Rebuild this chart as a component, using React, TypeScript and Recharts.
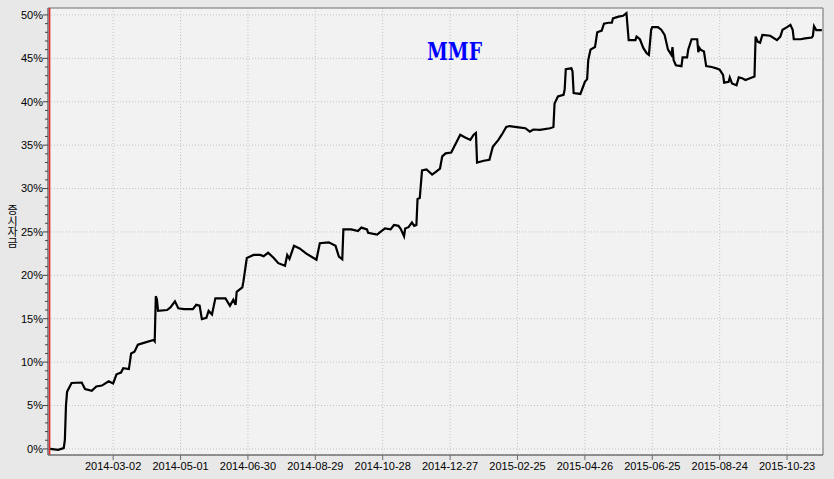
import React from 'react';
import { ComposedChart, Line, XAxis, YAxis, CartesianGrid, ReferenceLine, ReferenceArea } from 'recharts';

// day index counted from 2014-01-01
const days = [
  4, 11, 16, 17, 18, 19, 23, 32, 35, 41, 45, 50, 56, 60, 63, 67, 69, 74, 76, 79, 82, 88, 96, 97, 98, 99, 100,
  108, 111, 115, 118, 123, 131, 134, 137, 139, 143, 145, 148, 151, 160, 164, 167, 169, 170, 175, 176, 179,
  185, 191, 194, 198, 203, 207, 213, 215, 217, 221, 226, 232, 241, 244, 252, 258, 261, 264, 265, 272, 278,
  281, 286, 287, 295, 298, 302, 307, 310, 314, 316, 319, 320, 323, 326, 328, 330, 331, 333, 335, 339, 344,
  347, 351, 353, 356, 361, 369, 373, 378, 381, 383, 384, 390, 395, 398, 403, 406, 410, 413, 421, 427, 431,
  434, 440, 449, 452, 453, 456, 461, 462, 463, 468, 469, 470, 476, 480, 482, 483, 485, 489, 491, 495, 497,
  501, 504, 505, 510, 514, 517, 519, 525, 526, 529, 532, 535, 537, 539, 540, 545, 548, 551, 554, 557, 558,
  559, 561, 566, 567, 571, 572, 575, 580, 581, 582, 583, 586, 588, 593, 597, 600, 603, 604, 608, 609, 611,
  615, 617, 620, 623, 627, 631, 632, 634, 636, 638, 645, 651, 654, 656, 660, 663, 665, 666, 672, 676, 682,
  683, 684, 686, 691,
];

const values = [
  0, -0.1, 0.1, 1.0, 5.0, 6.6, 7.6, 7.65, 6.9, 6.7, 7.2, 7.3, 7.8, 7.55, 8.6, 8.8, 9.3, 9.2, 11.0, 11.2, 12.0, 12.25, 12.55, 12.4, 17.6, 17.2, 15.9,
  16.0, 16.3, 17.0, 16.2, 16.1, 16.1, 16.6, 16.5, 14.95, 15.1, 15.9, 15.5, 17.35, 17.35, 16.5, 17.2, 16.6, 18.1, 18.6, 19.3, 22.0,
  22.35, 22.35, 22.2, 22.6, 22.0, 21.4, 21.1, 22.35, 21.9, 23.4, 23.1, 22.5, 21.8, 23.7, 23.8, 23.4, 22.15, 21.85, 25.3, 25.3, 25.1,
  25.5, 25.3, 24.9, 24.7, 25.0, 25.4, 25.3, 25.8, 25.7, 25.35, 24.5, 25.4, 25.55, 26.1, 25.7, 25.8, 28.8, 28.9, 32.1, 32.2, 31.6,
  31.9, 32.3, 33.7, 34.05, 34.15, 36.2, 35.9, 35.6, 36.2, 36.4, 33.0, 33.2, 33.3, 34.8, 35.6, 36.2, 37.1, 37.2, 37.05, 36.95, 36.55,
  36.8, 36.75, 36.95, 37.1, 39.8, 40.6, 40.8, 41.4, 43.75, 43.85, 43.5, 41.0, 40.9, 42.3, 42.6, 44.8, 46.0, 46.3, 48.0, 48.2, 49.0,
  49.1, 49.1, 49.6, 49.8, 49.9, 50.2, 47.1, 47.1, 47.5, 47.2, 46.2, 45.6, 45.4, 48.3, 48.6, 48.6, 48.3, 47.7, 46.0, 45.4, 46.3,
  44.8, 44.2, 44.1, 45.1, 45.1, 46.0, 47.2, 47.2, 45.7, 46.2, 46.0, 45.8, 44.1, 44.0, 43.85, 43.7, 43.1, 42.2, 42.3, 42.8, 42.1,
  41.9, 42.8, 42.7, 42.5, 42.7, 42.9, 47.5, 46.9, 46.8, 47.7, 47.6, 47.1, 47.5, 48.3, 48.6, 48.85, 48.3, 47.2, 47.2, 47.3, 47.4,
  47.6, 48.7, 48.25, 48.25,
];

const xTickDays = [60, 120, 180, 240, 300, 360, 420, 480, 540, 600, 660];
const xTickLabels = [
  '2014-03-02', '2014-05-01', '2014-06-30', '2014-08-29', '2014-10-28', '2014-12-27',
  '2015-02-25', '2015-04-26', '2015-06-25', '2015-08-24', '2015-10-23',
];
const yMajorTicks = [0, 5, 10, 15, 20, 25, 30, 35, 40, 45, 50];
const yAllTicks = Array.from({ length: 51 }, (_, i) => i);

const title = 'MMF';
const yLabel = '증시자금';

const data = days.map((d, i) => ({ day: d, v: values[i] }));

const FONT = '"Liberation Sans", Arial, sans-serif';

const YTick = (props: any) => {
  const { x, y, payload } = props;
  const v = payload.value;
  const major = v % 5 === 0;
  return (
    <g>
      <line x1={x - (major ? 5 : 3)} x2={x} y1={y} y2={y} stroke="#444" strokeWidth={1} />
      {major && (
        <text x={x - 5} y={y} dy="0.36em" textAnchor="end" fontSize={11} fontFamily={FONT} fill="#000">
          {v}%
        </text>
      )}
    </g>
  );
};

export default function App() {
  return (
    <div style={{ position: 'absolute', left: 0, top: 0, width: 834, height: 479, background: '#e8e8e8' }}>
      <ComposedChart width={834} height={479} data={data} margin={{ top: 8, right: 11, bottom: 0, left: 0 }}>
        <CartesianGrid
          fill="#f2f2f2"
          stroke="#c4c4c4"
          strokeDasharray="1 2"
          horizontalValues={yMajorTicks}
          verticalValues={xTickDays}
        />
        <XAxis
          type="number"
          dataKey="day"
          domain={[2, 692]}
          allowDataOverflow
          ticks={xTickDays}
          interval={0}
          tickFormatter={(v: number) => xTickLabels[xTickDays.indexOf(v)]}
          tickSize={5}
          tickMargin={2}
          height={24}
          stroke="#6e6e6e"
          tick={{ fill: '#000', fontSize: 11, fontFamily: FONT }}
        />
        <YAxis
          type="number"
          domain={[-0.7, 50.8]}
          allowDataOverflow
          ticks={yAllTicks}
          interval={0}
          width={48}
          tickSize={0}
          tickMargin={0}
          tickLine={false}
          stroke="#6e6e6e"
          tick={<YTick />}
        />
        <ReferenceArea x1={2} x2={692} y1={-0.7} y2={50.8} fill="none" stroke="#6e6e6e" strokeWidth={1} />
        <ReferenceLine x={3.4} stroke="#e8262a" strokeWidth={1.6} />
        <Line
          type="linear"
          dataKey="v"
          stroke="#000"
          strokeWidth={2.2}
          dot={false}
          isAnimationActive={false}
        />
      </ComposedChart>
      <svg width={834} height={479} style={{ position: 'absolute', left: 0, top: 0, pointerEvents: 'none' }}>
        <text
          x={427}
          y={60}
          fontFamily='"DejaVu Serif", "Liberation Serif", serif'
          fontWeight="bold"
          fontSize={25}
          textLength={55}
          lengthAdjust="spacingAndGlyphs"
          fill="#0000ff"
        >
          {title}
        </text>
        <text
          x={12.5}
          y={204}
          fontFamily='"Noto Sans CJK KR", sans-serif'
          fontSize={11}
          fill="#000"
          style={{ writingMode: 'vertical-rl' as any, textOrientation: 'upright' as any }}
        >
          {yLabel}
        </text>
      </svg>
    </div>
  );
}
